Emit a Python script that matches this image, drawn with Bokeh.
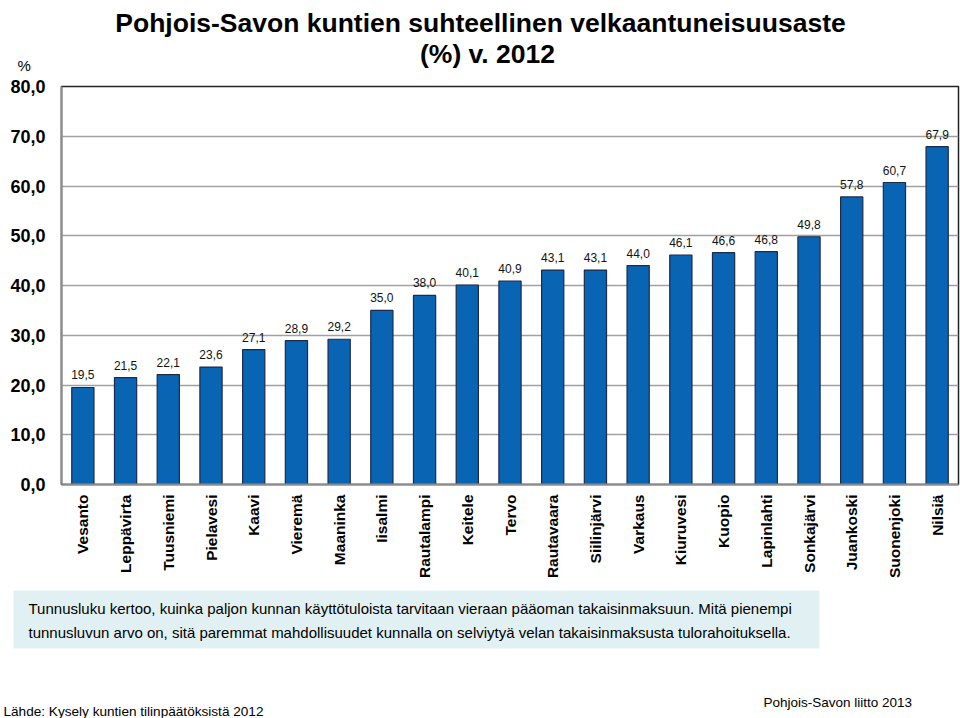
from bokeh.plotting import figure
from bokeh.models import (ColumnDataSource, LabelSet, FixedTicker, FactorRange, Range1d)
from bokeh.layouts import column, row
from bokeh.core.properties import value
from bokeh.embed import file_html
from bokeh.resources import INLINE

municipalities = ["Vesanto", "Leppävirta", "Tuusniemi", "Pielavesi", "Kaavi", "Vieremä",
                  "Maaninka", "Iisalmi", "Rautalampi", "Keitele", "Tervo", "Rautavaara",
                  "Siilinjärvi", "Varkaus", "Kiuruvesi", "Kuopio", "Lapinlahti", "Sonkajärvi",
                  "Juankoski", "Suonenjoki", "Nilsiä"]
values = [19.5, 21.5, 22.1, 23.6, 27.1, 28.9, 29.2, 35.0, 38.0, 40.1, 40.9, 43.1,
          43.1, 44.0, 46.1, 46.6, 46.8, 49.8, 57.8, 60.7, 67.9]
y_ticks = [0, 10, 20, 30, 40, 50, 60, 70, 80]

title_line1 = "Pohjois-Savon kuntien suhteellinen velkaantuneisuusaste"
title_line2 = "(%) v. 2012"
unit_text = "%"
note_line1 = "Tunnusluku kertoo, kuinka paljon kunnan käyttötuloista tarvitaan vieraan pääoman takaisinmaksuun. Mitä pienempi"
note_line2 = "tunnusluvun arvo on, sitä paremmat mahdollisuudet kunnalla on selviytyä velan takaisinmaksusta tulorahoituksella."
source_text = "Lähde: Kysely kuntien tilinpäätöksistä 2012"
publisher_text = "Pohjois-Savon liitto 2013"

FONT = "Liberation Sans"
W = 960
TOP_H = 76
MAIN_H = 513   # page y 76..589, frame 86..484
BOT_H = 718 - TOP_H - MAIN_H


def blank(height, y0, y1):
    f = figure(width=W, height=height, x_range=Range1d(0, W), y_range=Range1d(y1, y0),
               output_backend="svg", toolbar_location=None,
               x_axis_location=None, y_axis_location=None,
               min_border=0, min_border_left=0, min_border_right=0,
               min_border_top=0, min_border_bottom=0)
    f.grid.visible = False
    f.outline_line_color = None
    f.background_fill_color = "white"
    f.border_fill_color = "white"
    return f


def txt(f, x, y, t, size, bold=False, align="left"):
    f.text(x=[x], y=[y], text=[t], text_font=value(FONT), text_font_size=size,
           text_align=align, text_baseline="alphabetic", text_color="black",
           text_font_style="bold" if bold else "normal")


# ---- top strip (title) : page y 0..76
top = blank(TOP_H, 0, TOP_H)
txt(top, 480, 22, title_line1, "26.5px", bold=True, align="center")
txt(top, 487, 53, title_line2, "26.5px", bold=True, align="center")
txt(top, 17, 65, unit_text, "15px")

# ---- main chart
src = ColumnDataSource(dict(
    x=municipalities,
    y=values,
    lbl=[f"{v:.1f}".replace(".", ",") for v in values],
))

p = figure(width=W, height=MAIN_H, x_range=FactorRange(*municipalities, range_padding=0),
           y_range=Range1d(0, 80), output_backend="svg", toolbar_location=None,
           min_border_left=61, min_border_right=2, min_border_top=10, min_border_bottom=105)

p.vbar(x="x", top="y", width=0.52, source=src, fill_color="#0A64B4",
       line_color="#1B2B4A", line_width=1.2)

p.add_layout(LabelSet(x="x", y="y", text="lbl", source=src, y_offset=8,
                      text_align="center", text_baseline="alphabetic",
                      text_font=value(FONT), text_font_size="12px", text_color="#111111"))

p.outline_line_color = "#222222"
p.outline_line_width = 1.5
p.background_fill_color = "white"
p.border_fill_color = "white"

p.xgrid.grid_line_color = None
p.ygrid.grid_line_color = "#A0A0A0"
p.ygrid.grid_line_width = 1.5
p.yaxis.ticker = FixedTicker(ticks=y_ticks)
p.yaxis.major_label_overrides = {t: f"{t:.1f}".replace(".", ",") for t in y_ticks}
p.yaxis.major_label_text_font = FONT
p.yaxis.major_label_text_font_style = "bold"
p.yaxis.major_label_text_font_size = "18px"
p.yaxis.major_label_text_color = "black"
p.yaxis.major_label_standoff = 16
p.yaxis.major_tick_in = 0
p.yaxis.major_tick_out = 0
p.yaxis.minor_tick_in = 0
p.yaxis.minor_tick_out = 0
p.yaxis.axis_line_color = "#8C8C8C"
p.yaxis.axis_line_width = 2

p.xaxis.major_label_orientation = 1.5707963
p.xaxis.major_label_text_font = FONT
p.xaxis.major_label_text_font_style = "bold"
p.xaxis.major_label_text_font_size = "15.5px"
p.xaxis.major_label_text_color = "black"
p.xaxis.major_label_standoff = 10
p.xaxis.major_tick_in = 0
p.xaxis.major_tick_out = 0
p.xaxis.axis_line_color = "#8C8C8C"
p.xaxis.axis_line_width = 2

# ---- bottom strip (note box and sources) : page y 589..718
bot = blank(BOT_H, 589, 718)
bot.quad(left=[13], right=[819], top=[590], bottom=[648], fill_color="#E1F1F3",
         line_color=None)
txt(bot, 28, 608, note_line1, "15px")
txt(bot, 28, 632, note_line2, "15px")
txt(bot, 3, 711, source_text, "13.6px")
txt(bot, 763, 702, publisher_text, "13.5px")

layout = column(row(top), p, row(bot), spacing=0)
open("out.html", "w").write(file_html(layout, INLINE))
